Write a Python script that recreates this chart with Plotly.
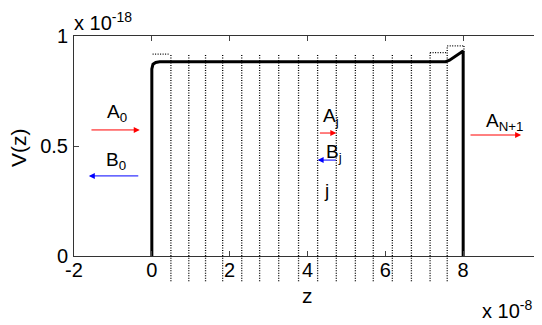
import plotly.graph_objects as go

# Potential profile V(z); z in units of 1e-8, V in units of 1e-18
z_e8 = [0.0, 0.0, 0.03, 0.1, 0.2, 1.0, 2.0, 3.0, 4.0, 5.0, 6.0, 7.0, 7.55,
        7.65, 7.75, 7.85, 7.95, 8.0, 8.0]
v_e18 = [0.0, 0.85, 0.872, 0.88, 0.883, 0.883, 0.883, 0.883, 0.883, 0.883,
         0.883, 0.883, 0.883, 0.890, 0.902, 0.914, 0.926, 0.932, 0.0]

# Layer boundaries (dotted) and how high each dotted marker reaches
bounds_e8 = [0.49, 0.95, 1.38, 1.82, 2.31, 2.77, 3.26, 3.77, 4.26, 4.74,
             5.23, 5.69, 6.18, 6.67, 7.15, 7.59, 8.02]
bound_tops = [0.918, 0.914, 0.914, 0.914, 0.914, 0.914, 0.914, 0.914, 0.914,
              0.914, 0.914, 0.914, 0.914, 0.914, 0.924, 0.955, 0.955]
tail_bottom = -0.115

# Step tops that show above the solid curve
step_x0 = [0.02, 7.15, 7.59]
step_x1 = [0.43, 7.59, 8.02]
step_v = [0.918, 0.924, 0.955]

xticks = [-2, 0, 2, 4, 6, 8]
xtick_text = ["-2", "0", "2", "4", "6", "8"]
yticks = [0, 0.5, 1]
ytick_text = ["0", "0.5", "1"]

FONT = "Liberation Sans, Arial, sans-serif"
DOT = dict(color="black", width=1.3, dash="1px,1.5px")

fig = go.Figure()

# dotted vertical boundaries (inside plot)
dx, dy = [], []
for b, t in zip(bounds_e8[:-1], bound_tops[:-1]):
    dx += [b, b, None]
    dy += [0, t, None]
for a, b, v in zip(step_x0, step_x1, step_v):
    dx += [a, b, None]
    dy += [v, v, None]
dx += [bounds_e8[-1], bounds_e8[-1]]
dy += [bound_tops[-1], 0.93]
fig.add_trace(go.Scatter(x=dx, y=dy, mode="lines", line=DOT,
                         hoverinfo="skip", showlegend=False))

# solid V(z)
fig.add_trace(go.Scatter(x=z_e8, y=v_e18, mode="lines",
                         line=dict(color="black", width=3),
                         showlegend=False))

# dotted tails that run below the axis
shapes = []
for b in bounds_e8[:-1]:
    shapes.append(dict(type="line", xref="x", yref="paper", x0=b, x1=b,
                       y0=tail_bottom, y1=0, line=DOT))

def arrow(x0, x1, y, color):
    return dict(x=x1, y=y, ax=x0, ay=y, xref="x", yref="y", axref="x", ayref="y",
                showarrow=True, arrowhead=2, arrowsize=1.2, arrowwidth=1,
                arrowcolor=color, text="")

def label(x, y, txt):
    return dict(x=x, y=y, xref="x", yref="y", text=txt, showarrow=False,
                font=dict(family=FONT, size=19, color="black"))

annotations = [
    arrow(-1.59, -0.31, 0.573, "red"),
    arrow(-0.31, -1.62, 0.364, "blue"),
    arrow(4.28, 4.74, 0.559, "red"),
    arrow(4.77, 4.26, 0.436, "blue"),
    arrow(8.15, 9.49, 0.55, "red"),
    label(-0.9, 0.65, "A<sub>0</sub>"),
    label(-0.92, 0.43, "B<sub>0</sub>"),
    label(4.6, 0.63, "A<sub>j</sub>"),
    label(4.68, 0.47, "B<sub>j</sub>"),
    label(4.5, 0.3, "j"),
    label(9.05, 0.61, "A<sub>N+1</sub>"),
    # axis titles
    dict(x=4, y=-0.18, xref="x", yref="paper", text="z", showarrow=False,
         yanchor="middle", font=dict(family=FONT, size=21, color="black")),
    dict(x=-0.12, y=0.495, xref="paper", yref="paper", text="V(z)", textangle=-90,
         showarrow=False, xanchor="center", yanchor="middle",
         font=dict(family=FONT, size=21, color="black")),
    # exponent labels
    dict(x=0.0, y=1.0, xref="paper", yref="paper", text="x 10<sup>-18</sup>",
         xanchor="left", yanchor="bottom", xshift=-2, showarrow=False,
         font=dict(family=FONT, size=20, color="black")),
    dict(x=1.0, y=-0.31, xref="paper", yref="paper", text="x 10<sup>-8</sup>",
         xanchor="right", yanchor="bottom", xshift=-7, showarrow=False,
         font=dict(family=FONT, size=20, color="black")),
]

# page body adds an 8px margin, so the figure is 8px smaller than the window
fig.update_layout(
    width=534, height=317,
    margin=dict(l=66, r=1, t=28, b=69),
    plot_bgcolor="white", paper_bgcolor="white",
    font=dict(family=FONT, size=20, color="black"),
    shapes=shapes, annotations=annotations,
    xaxis=dict(range=[-2, 10], tickvals=xticks, ticktext=xtick_text,
               ticks="inside", ticklen=5, ticklabelstandoff=-4,
               showline=True, mirror="ticks", linecolor="#333", linewidth=1,
               showgrid=False, zeroline=False, automargin=False),
    yaxis=dict(range=[0, 1], tickvals=yticks, ticktext=ytick_text,
               ticks="inside", ticklen=5, ticklabelstandoff=1,
               showline=True, mirror="ticks", linecolor="#333", linewidth=1,
               showgrid=False, zeroline=False, automargin=False),
)

fig.write_html("out.html")
